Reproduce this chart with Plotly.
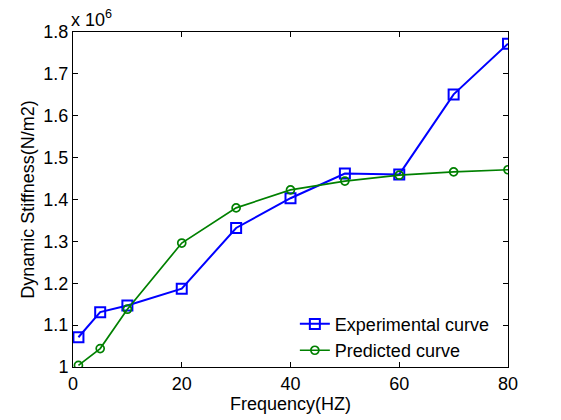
import plotly.graph_objects as go

# Frequency (Hz) and dynamic stiffness (N/m2)
freq = [1, 5, 10, 20, 30, 40, 50, 60, 70, 80]
experimental = [1.071e6, 1.131e6, 1.147e6, 1.187e6, 1.332e6,
                1.403e6, 1.462e6, 1.460e6, 1.651e6, 1.772e6]
predicted = [1.004e6, 1.044e6, 1.138e6, 1.296e6, 1.380e6,
             1.423e6, 1.444e6, 1.458e6, 1.466e6, 1.471e6]

x_ticks = [0, 20, 40, 60, 80]
y_ticks = [1.0e6, 1.1e6, 1.2e6, 1.3e6, 1.4e6, 1.5e6, 1.6e6, 1.7e6, 1.8e6]
y_tick_labels = ['1', '1.1', '1.2', '1.3', '1.4', '1.5', '1.6', '1.7', '1.8']

FONT = dict(family='Liberation Sans', size=18, color='black')

fig = go.Figure()

fig.add_trace(go.Scatter(
    x=freq, y=experimental,
    mode='lines+markers',
    name='Experimental curve',
    line=dict(color='#0000ff', width=2),
    marker=dict(symbol='square-open', size=10, color='#0000ff', line=dict(width=2))
))

fig.add_trace(go.Scatter(
    x=freq, y=predicted,
    mode='lines+markers',
    name='Predicted curve',
    line=dict(color='#008000', width=1.7),
    marker=dict(symbol='circle-open', size=8, color='#008000', line=dict(width=1.7))
))

axis_common = dict(
    showline=True, linecolor='black', linewidth=1, mirror='ticks',
    ticks='inside', ticklen=5, tickcolor='black', tickwidth=1,
    showgrid=False, zeroline=False, tickfont=FONT,
)

fig.update_layout(
    width=561, height=420,
    margin=dict(l=73, r=53, t=32, b=49),
    paper_bgcolor='white', plot_bgcolor='white',
    font=FONT,
    showlegend=True,
    legend=dict(
        x=0.51, y=-0.005, xanchor='left', yanchor='bottom',
        bgcolor='rgba(0,0,0,0)', borderwidth=0,
        font=FONT, tracegroupgap=0, itemwidth=30,
    ),
    xaxis=dict(
        range=[0, 80], tickvals=x_ticks,
        title=dict(text='Frequency(HZ)', font=FONT, standoff=2),
        **axis_common
    ),
    yaxis=dict(
        range=[1.0e6, 1.8e6], tickvals=y_ticks, ticktext=y_tick_labels,
        title=dict(text='Dynamic Stiffness(N/m2)', font=FONT, standoff=4),
        **axis_common
    ),
)

# exponent label that MATLAB puts above the y axis
fig.add_annotation(
    xref='paper', yref='paper', x=0, y=1, xanchor='left', yanchor='bottom',
    text='x 10<sup>6</sup>', showarrow=False, font=FONT, xshift=-4,
)

# drop the browser's default page margin so the figure sits at 0,0
fig.write_html("out.html", config={'displayModeBar': False},
               post_script="document.body.style.margin='0';")
